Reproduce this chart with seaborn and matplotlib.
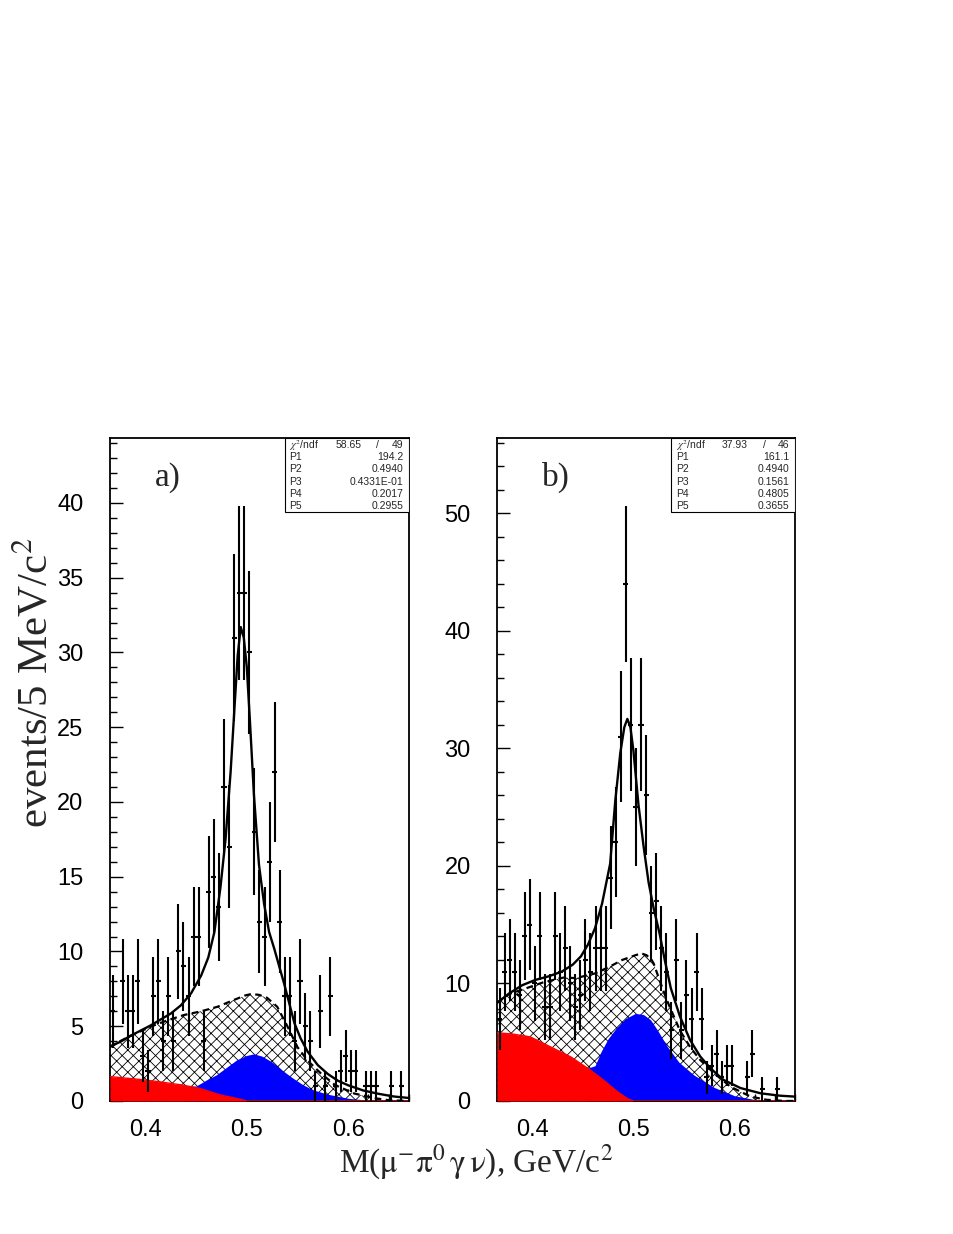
import numpy as np
import matplotlib
matplotlib.use("Agg")
import matplotlib.pyplot as plt
from matplotlib.patches import Rectangle
from matplotlib.ticker import MultipleLocator
import seaborn as sns

# ── histogram definition: 59 bins of 5 MeV starting at 0.365 GeV ───────────────
BIN_LO = 0.365
BIN_W = 0.005

counts_a = [6, 0, 8, 6, 6, 8, 3, 2, 7, 8,
            4, 7, 4, 10, 9, 7, 11, 11, 4, 14,
            15, 13, 21, 17, 31, 34, 34, 30, 18, 12,
            11, 16, 22, 12, 7, 7, 4, 8, 5, 4,
            1, 6, 1, 7, 1, 2, 3, 2, 2, 0,
            1, 1, 1, 0, 0, 1, 0, 1, 0]
counts_b = [7, 11, 12, 11, 9, 14, 15, 10, 14, 8,
            8, 14, 11, 13, 10, 8, 9, 12, 11, 13,
            13, 13, 19, 22, 31, 44, 32, 25, 32, 26,
            16, 17, 13, 11, 6, 12, 6, 9, 7, 11,
            7, 2, 3, 4, 2, 3, 3, 0, 0, 2,
            4, 0, 1, 0, 0, 1, 0, 0, 0]

# total fit (solid)
fit_a_x = [0.365, 0.375, 0.385, 0.395, 0.405, 0.415, 0.425, 0.435, 0.445, 0.455,
           0.462, 0.468, 0.474, 0.479, 0.484, 0.488, 0.491, 0.494, 0.497, 0.500,
           0.503, 0.507, 0.512, 0.517, 0.522, 0.527, 0.532, 0.537, 0.542, 0.547,
           0.553, 0.560, 0.570, 0.580, 0.590, 0.600, 0.615, 0.630, 0.645, 0.660]
fit_a_y = [3.65, 3.95, 4.35, 4.7, 5.05, 5.45, 5.85, 6.4, 7.2, 8.4,
           9.6, 11.3, 14.3, 17.5, 22.0, 26.5, 29.8, 31.7, 31.0, 29.0,
           25.5, 20.5, 15.8, 13.2, 11.3, 10.2, 9.0, 7.8, 6.5, 5.2,
           4.2, 3.3, 2.4, 1.8, 1.35, 1.05, 0.7, 0.48, 0.3, 0.2]
fit_b_x = [0.365, 0.377, 0.390, 0.403, 0.416, 0.429, 0.440, 0.448, 0.455, 0.462,
           0.469, 0.477, 0.482, 0.487, 0.491, 0.494, 0.497, 0.500, 0.505, 0.510,
           0.515, 0.520, 0.526, 0.531, 0.537, 0.546, 0.556, 0.566, 0.576, 0.589,
           0.606, 0.626, 0.645, 0.660]
fit_b_y = [8.35, 9.15, 9.85, 10.3, 10.6, 11.0, 11.6, 12.3, 13.3, 14.7,
           16.8, 20.2, 25.5, 29.6, 31.8, 32.5, 31.8, 29.8, 25.2, 21.7,
           18.6, 16.4, 14.2, 12.0, 9.6, 7.2, 5.2, 3.8, 2.8, 1.8,
           1.1, 0.65, 0.45, 0.37]

# total background (dashed, hatched)
bkg_a_x = [0.365, 0.375, 0.385, 0.398, 0.410, 0.422, 0.438, 0.455, 0.471, 0.487,
           0.498, 0.504, 0.512, 0.520, 0.530, 0.540, 0.550, 0.560, 0.573, 0.587,
           0.606, 0.625, 0.640, 0.660]
bkg_a_y = [3.6, 4.0, 4.35, 4.75, 5.1, 5.4, 5.75, 6.0, 6.3, 6.75,
           7.05, 7.15, 7.1, 6.9, 6.3, 5.0, 3.6, 2.7, 1.85, 1.07,
           0.5, 0.2, 0.05, 0.0]
bkg_b_x = [0.365, 0.377, 0.391, 0.411, 0.431, 0.443, 0.462, 0.476, 0.489, 0.502,
           0.508, 0.513, 0.518, 0.520, 0.527, 0.533, 0.540, 0.546, 0.556, 0.566,
           0.580, 0.596, 0.616, 0.632, 0.650, 0.660]
bkg_b_y = [8.35, 9.1, 9.5, 10.1, 10.5, 10.45, 10.85, 11.4, 12.0, 12.4,
           12.55, 12.4, 12.0, 11.7, 10.0, 8.6, 7.2, 6.0, 4.6, 3.5,
           2.35, 1.22, 0.37, 0.1, 0.0, 0.0]

# blue component (top of red + blue)
blue_a_x = [0.440, 0.450, 0.460, 0.470, 0.480, 0.490, 0.500, 0.507, 0.515, 0.525,
            0.535, 0.545, 0.555, 0.565, 0.580, 0.600, 0.620, 0.640]
blue_a_y = [1.0, 1.0, 1.4, 1.75, 2.25, 2.75, 3.05, 3.15, 3.0, 2.6,
            2.05, 1.55, 1.1, 0.75, 0.45, 0.18, 0.05, 0.0]
blue_b_x = [0.455, 0.462, 0.468, 0.475, 0.483, 0.492, 0.502, 0.510, 0.517, 0.524,
            0.533, 0.545, 0.560, 0.580, 0.600, 0.620, 0.640]
blue_b_y = [2.8, 3.0, 4.2, 5.3, 6.2, 7.0, 7.45, 7.35, 6.9, 6.0,
            4.7, 3.3, 2.2, 1.15, 0.45, 0.12, 0.02]

# red component
red_a_x = [0.365, 0.393, 0.413, 0.436, 0.453, 0.474, 0.494, 0.500, 0.660]
red_a_y = [1.63, 1.45, 1.29, 1.07, 0.85, 0.4, 0.11, 0.0, 0.0]
red_b_x = [0.365, 0.380, 0.398, 0.418, 0.438, 0.457, 0.470, 0.484, 0.494, 0.500, 0.660]
red_b_y = [5.8, 5.7, 5.45, 4.6, 3.75, 2.65, 1.8, 0.8, 0.2, 0.0, 0.0]

stats_a = [("58.65", "49"), ("P1", "194.2"), ("P2", "0.4940"), ("P3", "0.4331E-01"),
           ("P4", "0.2017"), ("P5", "0.2955")]
stats_b = [("37.93", "46"), ("P1", "161.1"), ("P2", "0.4940"), ("P3", "0.1561"),
           ("P4", "0.4805"), ("P5", "0.3655")]

sns.set_theme(style="ticks")
plt.rcParams.update({
    "font.family": ["Liberation Sans", "DejaVu Sans"],
    "mathtext.fontset": "stix",
    "hatch.linewidth": 0.6,
    "hatch.color": "black",
    "axes.linewidth": 1.3,
    "axes.edgecolor": "black",
})


def draw_panel(ax, counts, fit_x, fit_y, bkg_x, bkg_y, blue_x, blue_y,
               red_x, red_y, ymax, major, minor, stats, tag):
    counts = np.asarray(counts, dtype=float)
    centers = BIN_LO + BIN_W * (np.arange(len(counts)) + 0.5)
    nz = counts > 0

    ax.fill_between(bkg_x, 0, bkg_y, facecolor="white", edgecolor="black",
                    hatch="xxx", linewidth=0, zorder=1)
    ax.fill_between(blue_x, 0, blue_y, color="#0000ff", linewidth=0, zorder=2)
    ax.fill_between(red_x, 0, red_y, color="#ff0000", linewidth=0, zorder=3)
    ax.plot(red_x, red_y, color="#ff0000", lw=1.0, zorder=3)

    ax.errorbar(centers[nz], counts[nz], yerr=np.sqrt(counts[nz]), xerr=BIN_W / 2,
                fmt="none", ecolor="black", elinewidth=1.5, capsize=0, zorder=4)

    sns.lineplot(x=bkg_x, y=bkg_y, ax=ax, color="black", lw=1.6,
                 dashes=False, estimator=None, sort=False, zorder=5)
    ax.lines[-1].set_linestyle((0, (3, 2)))
    sns.lineplot(x=fit_x, y=fit_y, ax=ax, color="black", lw=1.7,
                 estimator=None, sort=False, zorder=6)

    ax.set_xlim(0.365, 0.66)
    ax.set_ylim(0, ymax)
    ax.xaxis.set_major_locator(MultipleLocator(0.1))
    ax.xaxis.set_minor_locator(MultipleLocator(0.02))
    ax.yaxis.set_major_locator(MultipleLocator(major))
    ax.yaxis.set_minor_locator(MultipleLocator(minor))
    ax.tick_params(which="both", direction="in", top=False, right=False,
                   width=1.0, labelsize=17, colors="black")
    ax.tick_params(which="major", length=9)
    ax.tick_params(which="minor", length=5)
    ax.tick_params(axis="y", which="major", pad=19)
    ax.tick_params(axis="x", which="major", pad=13)
    ax.xaxis.set_major_formatter(plt.FuncFormatter(lambda v, p: f"{v:.1f}"))
    ax.set_xlabel("")
    ax.set_ylabel("")
    for s in ax.spines.values():
        s.set_visible(True)

    # fit statistics box
    ax.add_patch(Rectangle((0.585, 0.888), 0.415, 0.112, transform=ax.transAxes,
                           facecolor="white", edgecolor="black", lw=0.8, zorder=7))
    rows = [0.989, 0.971, 0.953, 0.934, 0.916, 0.898]
    kw = dict(transform=ax.transAxes, fontsize=7.5, va="center", zorder=8)
    ax.text(0.600, rows[0], r"$\chi^2$/ndf", **kw)
    ax.text(0.840, rows[0], stats[0][0], ha="right", **kw)
    ax.text(0.896, rows[0], "/", ha="center", **kw)
    ax.text(0.980, rows[0], stats[0][1], ha="right", **kw)
    for r, (name, val) in zip(rows[1:], stats[1:]):
        ax.text(0.600, r, name, **kw)
        ax.text(0.980, r, val, ha="right", **kw)

    ax.text(0.15, 0.94, tag, transform=ax.transAxes, fontsize=24,
            family="Liberation Serif", va="center", ha="left")


fig = plt.figure(figsize=(9.54, 12.34), dpi=100)
ax_a = fig.add_axes([0.1153, 0.1078, 0.3134, 0.5373])
ax_b = fig.add_axes([0.5210, 0.1078, 0.3124, 0.5373])

draw_panel(ax_a, counts_a, fit_a_x, fit_a_y, bkg_a_x, bkg_a_y, blue_a_x, blue_a_y,
           red_a_x, red_a_y, 44.35, 5, 1, stats_a, "a)")
draw_panel(ax_b, counts_b, fit_b_x, fit_b_y, bkg_b_x, bkg_b_y, blue_b_x, blue_b_y,
           red_b_x, red_b_y, 56.4, 10, 2, stats_b, "b)")

fig.text(0.038, 0.4465, r"events/5 MeV/c$^2$", rotation=90, fontsize=31,
         family="Liberation Serif", ha="center", va="center")
fig.text(0.499, 0.058,
         r"M($\mathrm{\mu}^{-}\mathrm{\pi}^{0}\,\mathrm{\gamma}\,\mathrm{\nu}$), GeV/c$^{2}$",
         fontsize=24, family="Liberation Serif", ha="center", va="center")

fig.savefig("out.png", dpi=100, facecolor="white")
